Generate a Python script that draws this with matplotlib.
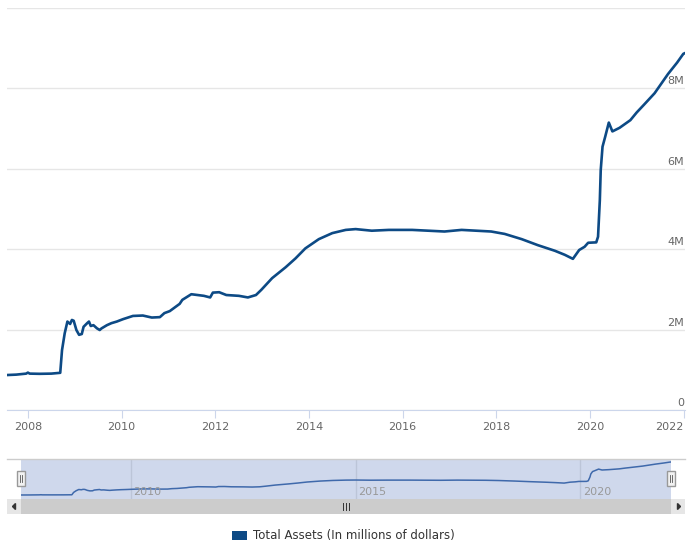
import matplotlib
matplotlib.use("Agg")
import matplotlib.pyplot as plt
from matplotlib.patches import Rectangle, Patch, Polygon
import pandas as pd

# Fed total assets, weekly-ish readings (millions of dollars)
dates = ['2007-07-25', '2007-10-03', '2007-12-19', '2008-01-02', '2008-01-16',
         '2008-04-02', '2008-07-02', '2008-09-10', '2008-09-24', '2008-10-15',
         '2008-11-05', '2008-11-26', '2008-12-10', '2008-12-24', '2009-01-14',
         '2009-02-04', '2009-02-25', '2009-03-11', '2009-04-08', '2009-04-22',
         '2009-05-06', '2009-05-27', '2009-06-24', '2009-07-15', '2009-07-29',
         '2009-09-09', '2009-10-14', '2009-11-25', '2010-01-13', '2010-03-31',
         '2010-06-16', '2010-08-25', '2010-10-27', '2010-12-01', '2011-01-12',
         '2011-03-30', '2011-04-20', '2011-06-29', '2011-10-05', '2011-11-23',
         '2011-12-14', '2012-02-01', '2012-03-28', '2012-07-04', '2012-09-12',
         '2012-11-14', '2012-12-26', '2013-03-20', '2013-07-03', '2013-09-18',
         '2013-12-04', '2014-03-19', '2014-07-02', '2014-10-15', '2014-12-31',
         '2015-05-06', '2015-09-16', '2016-03-16', '2016-11-23', '2017-04-05',
         '2017-11-22', '2018-03-07', '2018-07-18', '2018-11-21', '2019-04-03',
         '2019-06-19', '2019-08-21', '2019-10-09', '2019-11-20', '2019-12-18',
         '2020-02-19', '2020-03-04', '2020-03-18', '2020-03-25', '2020-04-08',
         '2020-04-29', '2020-05-27', '2020-06-24', '2020-08-19', '2020-11-11',
         '2020-12-30', '2021-02-24', '2021-05-19', '2021-09-01', '2021-11-10',
         '2021-12-29', '2022-01-05']
assets = [870000, 880000, 905000, 930000, 905000,
          900000, 905000, 925000, 1490000, 1910000,
          2200000, 2140000, 2240000, 2220000, 1990000,
          1870000, 1890000, 2070000, 2160000, 2200000,
          2090000, 2110000, 2030000, 1990000, 2030000,
          2110000, 2160000, 2200000, 2260000, 2340000,
          2350000, 2300000, 2310000, 2410000, 2460000,
          2640000, 2740000, 2880000, 2840000, 2800000,
          2920000, 2930000, 2860000, 2840000, 2800000,
          2860000, 2990000, 3280000, 3550000, 3770000,
          4020000, 4250000, 4400000, 4480000, 4500000,
          4460000, 4480000, 4480000, 4440000, 4480000,
          4440000, 4380000, 4250000, 4100000, 3960000,
          3860000, 3760000, 3980000, 4060000, 4160000,
          4170000, 4310000, 5220000, 5970000, 6550000,
          6800000, 7150000, 6930000, 7020000, 7210000,
          7400000, 7590000, 7880000, 8360000, 8640000,
          8860000, 8870000]

year_ticks = ['2008-01-01', '2010-01-01', '2012-01-01', '2014-01-01',
              '2016-01-01', '2018-01-01', '2020-01-01', '2022-01-01']
year_labels = ['2008', '2010', '2012', '2014', '2016', '2018', '2020', '2022']
nav_ticks = ['2010-01-01', '2015-01-01', '2020-01-01']
nav_labels = ['2010', '2015', '2020']
y_ticks = [0, 2000000, 4000000, 6000000, 8000000, 10000000]
y_labels = ['0', '2M', '4M', '6M', '8M', '']

LINE = '#0d4a85'
W, H = 695, 548


def px(l, t, r, b):
    return [l / W, 1 - b / H, (r - l) / W, (b - t) / H]


fig = plt.figure(figsize=(W / 100, H / 100), dpi=100)
x = pd.to_datetime(dates)

# main chart
ax = fig.add_axes(px(7, 8, 685, 410))
ax.plot(x, assets, color=LINE, lw=1.9, solid_joinstyle='round')
ax.set_xlim(pd.Timestamp('2007-07-23'), pd.Timestamp('2022-01-11'))
ax.set_ylim(0, 10000000)
for s in ['top', 'left', 'right']:
    ax.spines[s].set_visible(False)
ax.spines['bottom'].set_color('#ccd6eb')
ax.set_yticks(y_ticks)
ax.yaxis.grid(True, color='#e6e6e6', lw=1)
ax.set_axisbelow(True)
ax.tick_params(axis='y', length=0, labelleft=False)
for v, lab in zip(y_ticks, y_labels):
    ax.annotate(lab, xy=(1, v), xycoords=('axes fraction', 'data'),
                xytext=(-0.5, 1.5), textcoords='offset points',
                ha='right', va='bottom', fontsize=8, color='#666666')
ax.set_xticks(pd.to_datetime(year_ticks))
ax.set_xticklabels(year_labels)
ax.tick_params(axis='x', length=6, color='#ccd6eb', labelcolor='#666666',
               labelsize=8, pad=3)
ax.get_xticklabels()[-1].set_horizontalalignment('right')

# navigator
nav = fig.add_axes(px(21, 459, 671, 499))
nav.set_facecolor('#cfd8ec')
nav.plot(x, assets, color='#3f69ab', lw=1.1)
nav.set_xlim(x[0], x[-1])
nav.set_ylim(-100000, 9600000)
for s in nav.spines.values():
    s.set_visible(False)
nav.set_xticks([])
nav.set_yticks([])
for t, lab in zip(pd.to_datetime(nav_ticks), nav_labels):
    nav.axvline(t, color='#bcc5d8', lw=1, zorder=0)
    nav.annotate(lab, xy=(t, 0), xycoords=('data', 'axes fraction'),
                 xytext=(2, 1.5), textcoords='offset points',
                 ha='left', va='bottom', fontsize=8, color='#999999')

# navigator frame, handles and scrollbar (pixel coordinates)
ov = fig.add_axes(px(0, 440, W, 520))
ov.set_xlim(0, W)
ov.set_ylim(520, 440)
ov.axis('off')
ov.plot([7, 685], [459, 459], color='#cccccc', lw=1)
ov.add_patch(Rectangle((7, 499), 14, 15, facecolor='#e6e6e6', edgecolor='none'))
ov.add_patch(Rectangle((21, 499), 650, 15, facecolor='#cccccc', edgecolor='none'))
ov.add_patch(Rectangle((671, 499), 14, 15, facecolor='#e6e6e6', edgecolor='none'))
ov.add_patch(Polygon([[12.5, 506.5], [15.5, 503.5], [15.5, 509.5]], color='#333333'))
ov.add_patch(Polygon([[680.5, 506.5], [677.5, 503.5], [677.5, 509.5]], color='#333333'))
for rx in [343, 346, 349]:
    ov.plot([rx, rx], [503, 510], color='#333333', lw=0.7)
for hx in [21, 671]:
    ov.add_patch(Rectangle((hx - 4, 471), 8, 15, facecolor='#f2f2f2',
                           edgecolor='#999999', lw=1))
    for dx in [-1.2, 1.2]:
        ov.plot([hx + dx, hx + dx], [475, 482], color='#555555', lw=0.6)

# legend
fig.legend(handles=[Patch(facecolor=LINE)],
           labels=['Total Assets (In millions of dollars)'],
           loc='center', bbox_to_anchor=(343 / W, 1 - 536 / H),
           frameon=False, fontsize=8.5, handlelength=1.35, handleheight=0.75,
           handletextpad=0.45, labelcolor='#333333')

fig.savefig('out.png', dpi=100)
